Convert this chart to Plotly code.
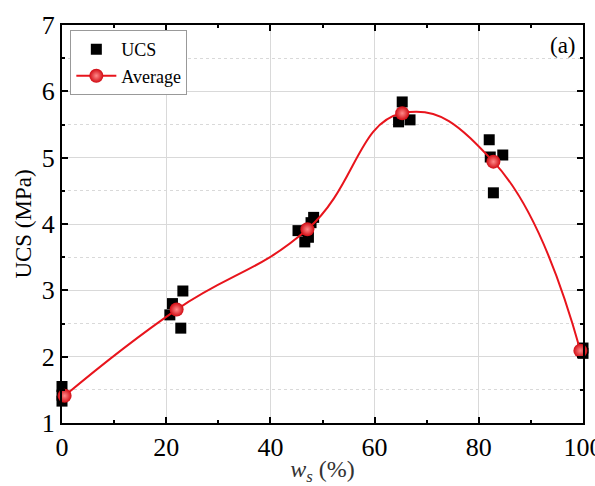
import plotly.graph_objects as go

# UCS raw measurements
ucs_x = [0, 0, 0, 20.7, 21.2, 22.8, 23.2, 45.3, 46.6, 47.3, 47.8, 48.3,
         64.6, 65.3, 66.8, 82.0, 82.2, 84.6, 82.8, 100, 100]
ucs_y = [1.55, 1.42, 1.33, 2.63, 2.80, 2.43, 2.99, 3.90, 3.73, 3.80, 4.02, 4.10,
         5.54, 5.84, 5.57, 5.27, 5.01, 5.04, 4.47, 2.13, 2.05]

# Averages
avg_x = [0.5, 22.0, 47.1, 65.3, 82.8, 99.5]
avg_y = [1.41, 2.71, 3.92, 5.67, 4.94, 2.09]

x_ticks = [0, 20, 40, 60, 80, 100]
y_ticks = [1, 2, 3, 4, 5, 6, 7]

FONT = "Liberation Serif"

fig = go.Figure()
fig.add_trace(go.Scatter(
    x=ucs_x, y=ucs_y, mode="markers", name="UCS",
    marker=dict(symbol="square", size=11, color="black"),
    cliponaxis=False,
))
fig.add_trace(go.Scatter(
    x=avg_x, y=avg_y, mode="lines+markers", name="Average",
    line=dict(color="#e8141c", width=2, shape="spline", smoothing=1.3),
    marker=dict(symbol="circle", size=14, color="#d10a12",
                gradient=dict(type="radial", color="#ff8a8a"),
                line=dict(width=0)),
    cliponaxis=False,
))

axis_common = dict(
    showline=True, linecolor="black", linewidth=2, mirror="allticks",
    ticks="inside", ticklen=6, tickwidth=1.5, tickcolor="black",
    showgrid=True, gridcolor="#d9d9d9", gridwidth=1,
    zeroline=False,
    tickfont=dict(family=FONT, size=26, color="black"),
)

fig.update_xaxes(
    range=[0, 100], tickvals=x_ticks, ticktext=[str(v) for v in x_ticks],
    ticklabeloverflow="allow", automargin=False,
    minor=dict(dtick=10, ticks="inside", ticklen=3, tickcolor="black",
               showgrid=False),
    title=dict(text="<i>w<sub>s</sub></i> (%)", font=dict(family=FONT, size=24, color="#333"),
               standoff=0),
    **axis_common,
)
fig.update_yaxes(
    range=[1, 7], tickvals=y_ticks, ticktext=[str(v) for v in y_ticks],
    automargin=False,
    minor=dict(dtick=0.5, ticks="inside", ticklen=3, tickcolor="black",
               showgrid=True, gridcolor="#d9d9d9", griddash="dot"),
    title=dict(text="UCS (MPa)", font=dict(family=FONT, size=23, color="black"),
               standoff=4),
    **axis_common,
)

fig.add_annotation(x=0.99, y=0.985, xref="paper", yref="paper", text="(a)",
                   showarrow=False, xanchor="right", yanchor="top",
                   font=dict(family=FONT, size=23, color="black"))

fig.update_layout(
    width=595, height=486,
    margin=dict(l=62, r=12, t=25, b=63),
    plot_bgcolor="white", paper_bgcolor="white",
    legend=dict(x=0.016, y=0.987, xanchor="left", yanchor="top",
                bordercolor="#999", borderwidth=1, bgcolor="white",
                font=dict(family=FONT, size=18, color="black"),
                tracegroupgap=0, itemsizing="trace", itemwidth=40),
    showlegend=True,
)

fig.write_html("out.html")
